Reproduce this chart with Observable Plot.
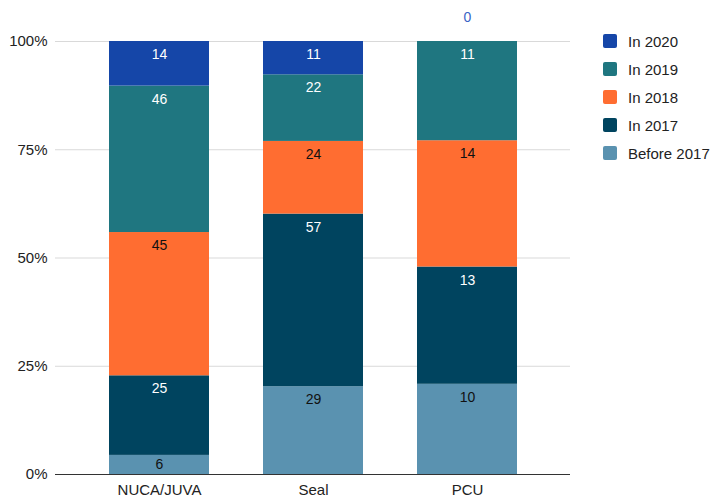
<!DOCTYPE html>
<html>
<head>
<meta charset="utf-8">
<script src="https://cdn.jsdelivr.net/npm/d3@7"></script>
<script src="https://cdn.jsdelivr.net/npm/@observablehq/plot@0.6"></script>
<style>
  body { margin: 0; background: #fff; font-family: "Liberation Sans", Arial, sans-serif; }
  #wrap { position: relative; width: 711px; height: 497px; }
  #legend { position: absolute; left: 603px; top: 27px; font-size: 15px; color: #222; }
  .item { display: flex; align-items: center; height: 28px; }
  .sw { width: 14px; height: 14px; border-radius: 2px; margin-right: 11px; }
</style>
</head>
<body>
<div id="wrap"><div id="legend"></div></div>
<script>
// Groups along the x axis
const groups = ["NUCA/JUVA", "Seal", "PCU"];
// Series, bottom of the stack first
const series = ["Before 2017", "In 2017", "In 2018", "In 2019", "In 2020"];
const colors = ["#5a92b0", "#00445f", "#ff6d31", "#1f7680", "#1546a8"];
const labelColors = ["#111", "#fff", "#111", "#fff", "#fff"];
// Counts per series, in group order
const before2017 = [6, 29, 10];
const in2017 = [25, 57, 13];
const in2018 = [45, 24, 14];
const in2019 = [46, 22, 11];
const in2020 = [14, 11, 0];
const yTicks = [0, 0.25, 0.5, 0.75, 1];

const values = [before2017, in2017, in2018, in2019, in2020];

// Normalised stack: each group's segments share the full 0–100% height
const rows = [];
groups.forEach((g, gi) => {
  const total = d3.sum(values, v => v[gi]);
  let acc = 0;
  series.forEach((s, si) => {
    const v = values[si][gi];
    const y1 = acc / total;
    acc += v;
    const y2 = acc / total;
    rows.push({group: g, series: s, value: v, y1, y2, si,
      ylab: (y2 - y1) < 0.06 ? (y1 + y2) / 2 : y2});
  });
});
const shown = rows.filter(d => d.value > 0);
const small = shown.filter(d => (d.y2 - d.y1) < 0.06);
const tall = shown.filter(d => (d.y2 - d.y1) >= 0.06);
const zeros = rows.filter(d => d.value === 0);

const chart = Plot.plot({
  width: 711,
  height: 497,
  marginLeft: 55,
  marginRight: 141,
  marginTop: 41,
  marginBottom: 23,
  style: {fontFamily: "'Liberation Sans', Arial, sans-serif", fontSize: "15px", color: "#222"},
  x: {domain: groups, paddingInner: 0.353, paddingOuter: 0.343, label: null, tickSize: 0, tickPadding: 10},
  y: {domain: [0, 1], ticks: yTicks, tickFormat: d3.format(".0%"), label: null, tickSize: 0, tickPadding: 8},
  color: {domain: series, range: colors},
  marks: [
    Plot.ruleY(yTicks.filter(t => t > 0), {stroke: "#d9d9d9"}),
    Plot.barY(rows, {x: "group", y1: "y1", y2: "y2", fill: "series", inset: 0}),
    Plot.ruleY([0], {stroke: "#333"}),
    Plot.text(tall, {x: "group", y: "y2", text: "value", dy: 13,
      fill: d => labelColors[d.si], fontSize: 14}),
    Plot.text(small, {x: "group", y: "ylab", text: "value",
      fill: d => labelColors[d.si], fontSize: 14}),
    Plot.text(zeros, {x: "group", y: "y2", text: "value", dy: -24,
      fill: "#3a63c6", fontSize: 14})
  ]
});
document.getElementById("wrap").prepend(chart);

const legend = d3.select("#legend");
series.slice().reverse().forEach((s, i) => {
  const item = legend.append("div").attr("class", "item");
  item.append("div").attr("class", "sw").style("background", colors[series.length - 1 - i]);
  item.append("span").text(s);
});
</script>
</body>
</html>
